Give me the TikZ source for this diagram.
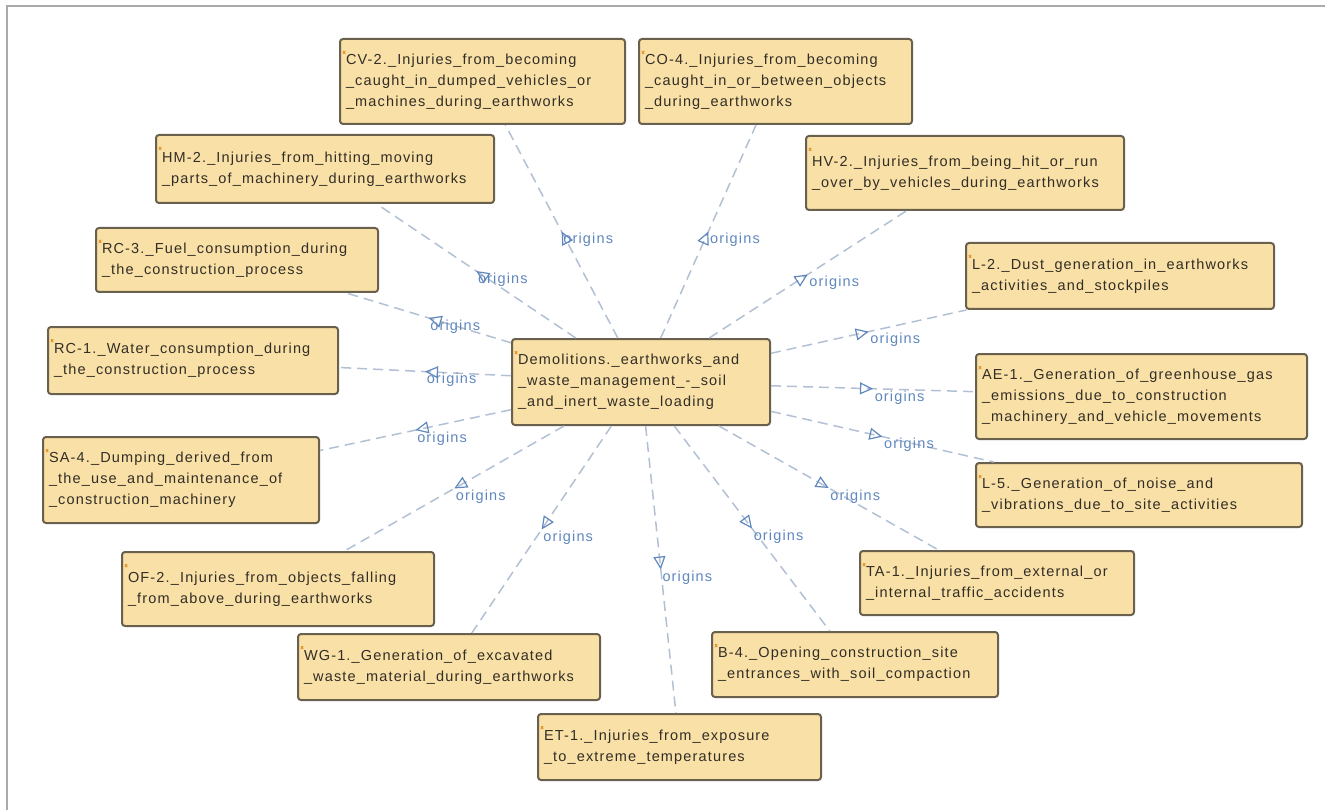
\documentclass[tikz,border=0pt]{standalone}
\usepackage{fontspec}
\setmainfont{Liberation Sans}
\newfontfamily\ontofont[LetterSpace=8]{Liberation Sans}
\usetikzlibrary{arrows.meta, decorations.markings}
\definecolor{conceptfill}{RGB}{248,224,166}
\definecolor{conceptline}{RGB}{105,96,78}
\definecolor{concepttext}{RGB}{50,45,38}
\definecolor{linkline}{RGB}{178,192,212}
\definecolor{linkblue}{RGB}{95,135,190}
\definecolor{framegray}{RGB}{170,170,170}
\definecolor{tickorange}{RGB}{230,150,40}
\hyphenpenalty=10000
\exhyphenpenalty=10000

\begin{document}
\begin{tikzpicture}[x=1pt, y=-1pt,
  concept/.style={draw=conceptline, fill=conceptfill, line width=2pt, rounded corners=3pt,
    align=left, inner xsep=6pt, inner ysep=3pt, text=concepttext,
    font=\ontofont\fontsize{14.5}{21}\selectfont,
    path picture={\fill[tickorange] ([xshift=3pt, yshift=-12pt]path picture bounding box.north west) rectangle ++(2pt,-3pt);}},
  origin/.style={draw=linkline, line width=1.5pt, dash pattern=on 10pt off 6pt,
    postaction={decorate}, decoration={markings, mark=at position 0.5 with
      {\arrow{Triangle[open, length=13pt, width=12pt, color=linkblue, line width=1.2pt]}}}},
  originlabel/.style={anchor=north west, inner sep=1pt, text=linkblue,
    font=\ontofont\fontsize{14.5}{17}\selectfont},
]
\useasboundingbox (0,0) rectangle (1325,810);
\draw[framegray, line width=2pt] (7,810) -- (7,6) -- (1325,6);

\node[concept, text width=246pt, minimum height=86pt] (demo) at (641, 382) {Demolitions.\_earthworks\_and\\\_waste\_management\_-\_soil\\\_and\_inert\_waste\_loading};

\node[concept, text width=273pt, minimum height=85pt] (cv2) at (482.5, 81.5) {CV-2.\_Injuries\_from\_becoming\\\_caught\_in\_dumped\_vehicles\_or\\\_machines\_during\_earthworks};
\node[concept, text width=261pt, minimum height=85pt] (co4) at (775.5, 81.5) {CO-4.\_Injuries\_from\_becoming\\\_caught\_in\_or\_between\_objects\\\_during\_earthworks};
\node[concept, text width=326pt, minimum height=68pt] (hm2) at (325, 169) {HM-2.\_Injuries\_from\_hitting\_moving\\\_parts\_of\_machinery\_during\_earthworks};
\node[concept, text width=306pt, minimum height=74pt] (hv2) at (965, 173) {HV-2.\_Injuries\_from\_being\_hit\_or\_run\\\_over\_by\_vehicles\_during\_earthworks};
\node[concept, text width=270pt, minimum height=64pt] (rc3) at (237, 260) {RC-3.\_Fuel\_consumption\_during\\\_the\_construction\_process};
\node[concept, text width=296pt, minimum height=66pt] (l2) at (1120, 276) {L-2.\_Dust\_generation\_in\_earthworks\\\_activities\_and\_stockpiles};
\node[concept, text width=278pt, minimum height=67pt] (rc1) at (193, 360.5) {RC-1.\_Water\_consumption\_during\\\_the\_construction\_process};
\node[concept, text width=319pt, minimum height=85pt] (ae1) at (1141.5, 396.5) {AE-1.\_Generation\_of\_greenhouse\_gas\\\_emissions\_due\_to\_construction\\\_machinery\_and\_vehicle\_movements};
\node[concept, text width=264pt, minimum height=86pt] (sa4) at (181, 480) {SA-4.\_Dumping\_derived\_from\\\_the\_use\_and\_maintenance\_of\\\_construction\_machinery};
\node[concept, text width=314pt, minimum height=64pt] (l5) at (1139, 495) {L-5.\_Generation\_of\_noise\_and\\\_vibrations\_due\_to\_site\_activities};
\node[concept, text width=300pt, minimum height=74pt] (of2) at (278, 589) {OF-2.\_Injuries\_from\_objects\_falling\\\_from\_above\_during\_earthworks};
\node[concept, text width=262pt, minimum height=64pt] (ta1) at (997, 583) {TA-1.\_Injuries\_from\_external\_or\\\_internal\_traffic\_accidents};
\node[concept, text width=290pt, minimum height=66pt] (wg1) at (449, 667) {WG-1.\_Generation\_of\_excavated\\\_waste\_material\_during\_earthworks};
\node[concept, text width=274pt, minimum height=65pt] (b4) at (855, 664.5) {B-4.\_Opening\_construction\_site\\\_entrances\_with\_soil\_compaction};
\node[concept, text width=271pt, minimum height=66pt] (et1) at (679.5, 747) {ET-1.\_Injuries\_from\_exposure\\\_to\_extreme\_temperatures};

\draw[origin] (demo) -- node[originlabel] {origins} (cv2);
\draw[origin] (demo) -- node[originlabel] {origins} (co4);
\draw[origin] (demo) -- node[originlabel] {origins} (hm2);
\draw[origin] (demo) -- node[originlabel] {origins} (hv2);
\draw[origin] (demo) -- node[originlabel] {origins} (rc3);
\draw[origin] (demo) -- node[originlabel] {origins} (l2);
\draw[origin] (demo) -- node[originlabel] {origins} (rc1);
\draw[origin] (demo) -- node[originlabel] {origins} (ae1);
\draw[origin] (demo) -- node[originlabel] {origins} (sa4);
\draw[origin] (demo) -- node[originlabel] {origins} (l5);
\draw[origin] (demo) -- node[originlabel] {origins} (of2);
\draw[origin] (demo) -- node[originlabel] {origins} (ta1);
\draw[origin] (demo) -- node[originlabel] {origins} (wg1);
\draw[origin] (demo) -- node[originlabel] {origins} (b4);
\draw[origin] (demo) -- node[originlabel] {origins} (et1);
\end{tikzpicture}
\end{document}
